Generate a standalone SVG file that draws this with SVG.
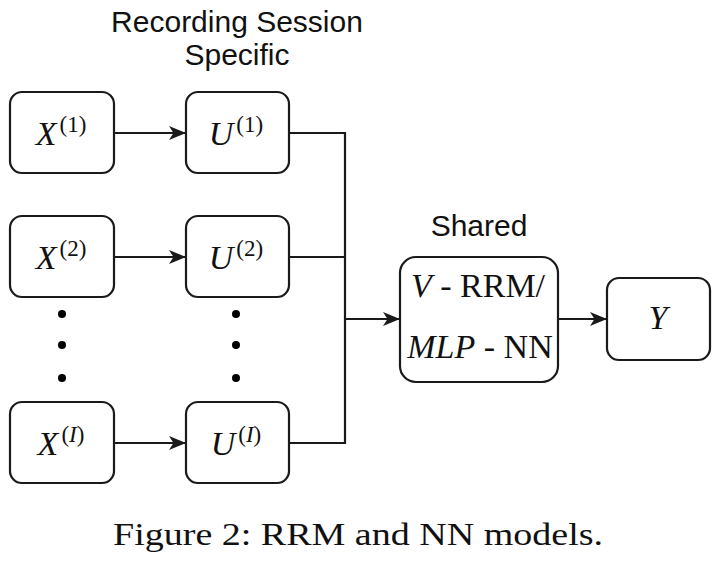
<svg xmlns="http://www.w3.org/2000/svg" width="720" height="563" viewBox="0 0 720 563">
<defs>
<style>
.box{fill:#fff;stroke:#1a1a1a;stroke-width:2.2}
.ln{fill:none;stroke:#1a1a1a;stroke-width:2.2}
.math{font-family:"Liberation Serif","Times New Roman",serif;font-size:34px;fill:#111}
.it{font-style:italic}
.sup{font-size:23px;font-style:normal}
.sans{font-family:"Liberation Sans",Arial,sans-serif;font-size:30px;fill:#111;text-anchor:middle}
.dot{fill:#000}
</style>
<marker id="arr" markerWidth="17" markerHeight="14" refX="16" refY="7" orient="auto" markerUnits="userSpaceOnUse">
<path d="M0,0 L17,7 L0,14 L4.5,7 Z" fill="#1a1a1a"/>
</marker>
</defs>
<rect width="720" height="563" fill="#fff"/>
<text class="sans" x="237" y="32">Recording Session</text>
<text class="sans" x="237" y="65">Specific</text>
<text class="sans" x="479" y="236">Shared</text>
<g id="connectors">
<line class="ln" x1="114" y1="133" x2="185" y2="133" marker-end="url(#arr)"/>
<line class="ln" x1="114" y1="257" x2="185" y2="257" marker-end="url(#arr)"/>
<line class="ln" x1="114" y1="443" x2="185" y2="443" marker-end="url(#arr)"/>
<polyline class="ln" points="289,133 345,133 345,443 289,443"/>
<line class="ln" x1="289" y1="257" x2="345" y2="257"/>
<line class="ln" x1="345" y1="319" x2="399" y2="319" marker-end="url(#arr)"/>
<line class="ln" x1="558" y1="319" x2="606" y2="319" marker-end="url(#arr)"/>
</g>
<g id="X1"><rect class="box" x="10" y="92" width="104" height="81" rx="12"/>
<text class="math" x="61" y="145" text-anchor="middle"><tspan class="it">X</tspan><tspan class="sup" dx="3" dy="-13">(1)</tspan></text></g>
<g id="U1"><rect class="box" x="186" y="92" width="103" height="81" rx="12"/>
<text class="math" x="236" y="145" text-anchor="middle"><tspan class="it">U</tspan><tspan class="sup" dx="3" dy="-13">(1)</tspan></text></g>
<g id="X2"><rect class="box" x="10" y="216" width="104" height="81" rx="12"/>
<text class="math" x="61" y="269" text-anchor="middle"><tspan class="it">X</tspan><tspan class="sup" dx="3" dy="-13">(2)</tspan></text></g>
<g id="U2"><rect class="box" x="186" y="216" width="103" height="81" rx="12"/>
<text class="math" x="236" y="269" text-anchor="middle"><tspan class="it">U</tspan><tspan class="sup" dx="3" dy="-13">(2)</tspan></text></g>
<g id="XI"><rect class="box" x="10" y="402" width="104" height="81" rx="12"/>
<text class="math" x="61" y="455" text-anchor="middle"><tspan class="it">X</tspan><tspan class="sup" dx="3" dy="-13">(<tspan class="it">I</tspan>)</tspan></text></g>
<g id="UI"><rect class="box" x="186" y="402" width="103" height="81" rx="12"/>
<text class="math" x="236" y="455" text-anchor="middle"><tspan class="it">U</tspan><tspan class="sup" dx="3" dy="-13">(<tspan class="it">I</tspan>)</tspan></text></g>
<g id="dots">
<circle class="dot" cx="62" cy="314" r="4"/><circle class="dot" cx="62" cy="345" r="4"/><circle class="dot" cx="62" cy="378" r="4"/>
<circle class="dot" cx="236" cy="314" r="4"/><circle class="dot" cx="236" cy="345" r="4"/><circle class="dot" cx="236" cy="378" r="4"/>
</g>
<g id="model"><rect class="box" x="400" y="257" width="158" height="125" rx="16"/>
<text class="math" x="478" y="297" text-anchor="middle" font-size="32"><tspan class="it">V</tspan> - RRM/</text>
<text class="math" x="480" y="358" text-anchor="middle" font-size="32"><tspan class="it">MLP</tspan> - NN</text></g>
<g id="Y"><rect class="box" x="607" y="278" width="103" height="82" rx="12"/>
<text class="math it" x="658" y="329" text-anchor="middle">Y</text></g>
<text x="113" y="545" font-family="'Liberation Serif','Times New Roman',serif" font-size="32" fill="#111" textLength="490" lengthAdjust="spacingAndGlyphs">Figure 2: RRM and NN models.</text>
</svg>
